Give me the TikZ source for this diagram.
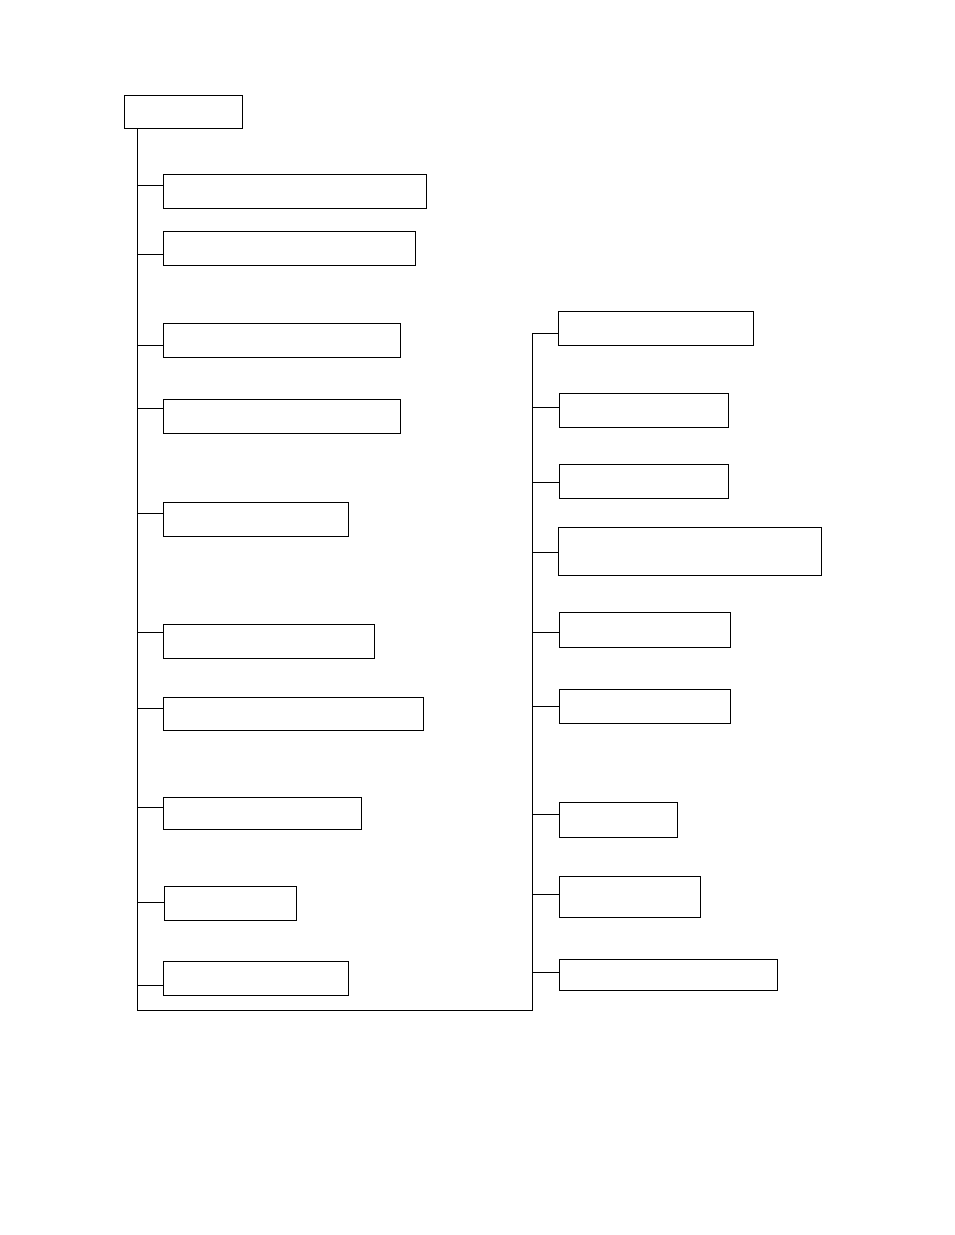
\documentclass[tikz,border=0pt]{standalone}
\begin{document}
\begin{tikzpicture}[x=1pt,y=-1pt,
  box/.style={draw,line width=1pt,anchor=north west,inner sep=0pt,outer sep=0pt},
  link/.style={line width=1pt}]
\useasboundingbox (0,0) rectangle (954,1235);
% root
\node[box,minimum width=118pt,minimum height=33pt] (root) at (124,95) {};
% left column
\node[box,minimum width=263pt,minimum height=34pt] (l1) at (163,174) {};
\node[box,minimum width=252pt,minimum height=34pt] (l2) at (163,231) {};
\node[box,minimum width=237pt,minimum height=34pt] (l3) at (163,323) {};
\node[box,minimum width=237pt,minimum height=34pt] (l4) at (163,399) {};
\node[box,minimum width=185pt,minimum height=34pt] (l5) at (163,502) {};
\node[box,minimum width=211pt,minimum height=34pt] (l6) at (163,624) {};
\node[box,minimum width=260pt,minimum height=33pt] (l7) at (163,697) {};
\node[box,minimum width=198pt,minimum height=32pt] (l8) at (163,797) {};
\node[box,minimum width=132pt,minimum height=34pt] (l9) at (164,886) {};
\node[box,minimum width=185pt,minimum height=34pt] (l10) at (163,961) {};
% right column
\node[box,minimum width=195pt,minimum height=34pt] (r1) at (558,311) {};
\node[box,minimum width=169pt,minimum height=34pt] (r2) at (559,393) {};
\node[box,minimum width=169pt,minimum height=34pt] (r3) at (559,464) {};
\node[box,minimum width=263pt,minimum height=48pt] (r4) at (558,527) {};
\node[box,minimum width=171pt,minimum height=35pt] (r5) at (559,612) {};
\node[box,minimum width=171pt,minimum height=34pt] (r6) at (559,689) {};
\node[box,minimum width=118pt,minimum height=35pt] (r7) at (559,802) {};
\node[box,minimum width=141pt,minimum height=41pt] (r8) at (559,876) {};
\node[box,minimum width=218pt,minimum height=31pt] (r9) at (559,959) {};
% spine
\coordinate (top) at (137,128);
\coordinate (bl) at (137,1010);
\coordinate (br) at (532,1010);
\coordinate (rt) at (532,333);
\draw[link] (top) -- (bl) -- (br) -- (rt) -- (rt -| r1.west);
% left connectors
\foreach \n/\yy in {l1/185,l2/254,l3/345,l4/408,l5/513,l6/632,l7/708,l8/807,l9/902,l10/985}{
  \coordinate (s\n) at (137,\yy);
  \draw[link] (s\n) -- (s\n -| \n.west);
}
% right connectors
\foreach \n/\yy in {r2/407,r3/482,r4/552,r5/632,r6/706,r7/814,r8/894,r9/972}{
  \coordinate (s\n) at (532,\yy);
  \draw[link] (s\n) -- (s\n -| \n.west);
}
\end{tikzpicture}
\end{document}
